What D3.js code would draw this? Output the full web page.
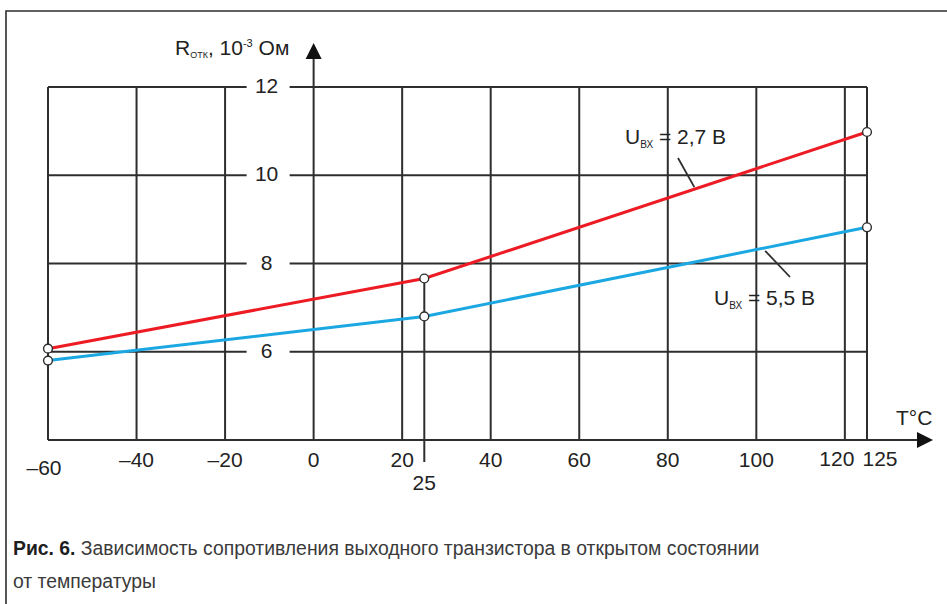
<!DOCTYPE html>
<html>
<head>
<meta charset="utf-8">
<script src="https://cdn.jsdelivr.net/npm/d3@7"></script>
<style>
  html, body { margin: 0; padding: 0; background: #fff; }
  svg { display: block; }
  text { font-family: "Liberation Sans", Arial, sans-serif; fill: #222; }
</style>
</head>
<body>
<svg id="chart" width="947" height="604"></svg>
<script>
// Temperature points (°C) and on-state resistance (10^-3 Ohm) for two input voltages
const temps = [-60, 25, 125];
const rU27 = [6.07, 7.66, 10.98];   // U_вх = 2,7 В
const rU55 = [5.80, 6.80, 8.82];    // U_вх = 5,5 В

const xGrid = [-40, -20, 0, 20, 40, 60, 80, 100, 120];
const xTickLabels = [-60, -40, -20, 0, 20, 40, 60, 80, 100, 120, 125, 25];
const yGrid = [6, 8, 10];
const yTickLabels = [6, 8, 10, 12];

const svg = d3.select("#chart");
const ink = "#2e2e2e";
const fs = 21;

const x = d3.scaleLinear().domain([-60, 125]).range([48, 867]);
const y = d3.scaleLinear().domain([4, 12]).range([440, 87]);

const x0 = x(0);
const labelX = x0 - 47;       // centre of the y tick labels
const gapL = labelX - 20, gapR = labelX + 23;

// outer frame (left and top)
svg.append("path")
  .attr("d", "M6,604V11H947")
  .attr("fill", "none").attr("stroke", ink).attr("stroke-width", 1.6);

const grid = svg.append("g").attr("stroke", ink).attr("stroke-width", 2).attr("fill", "none");

// horizontal grid lines, broken around the tick labels
[...yGrid, 12].forEach(v => {
  grid.append("line").attr("x1", x(-60)).attr("x2", gapL).attr("y1", y(v)).attr("y2", y(v));
  grid.append("line").attr("x1", gapR).attr("x2", x(125)).attr("y1", y(v)).attr("y2", y(v));
});

// vertical grid lines and frame sides
[-60, ...xGrid.filter(d => d !== 0), 125].forEach(v => {
  grid.append("line").attr("x1", x(v)).attr("x2", x(v)).attr("y1", y(12)).attr("y2", y(4));
});

// marker line at 25 °C
grid.append("line")
  .attr("x1", x(25)).attr("x2", x(25))
  .attr("y1", y(rU27[1])).attr("y2", y(4) + 22);

// axes with arrows
grid.append("line").attr("x1", x0).attr("x2", x0).attr("y1", y(4)).attr("y2", 58);
svg.append("path").attr("d", `M${x0 - 8},59L${x0 + 8},59L${x0},43Z`).attr("fill", "#111");
grid.append("line").attr("x1", x(-60)).attr("x2", 918).attr("y1", y(4)).attr("y2", y(4));
svg.append("path").attr("d", `M917,432L917,448L933,440Z`).attr("fill", "#111");

// y tick labels
svg.append("g").selectAll("text").data(yTickLabels).join("text")
  .attr("x", labelX).attr("y", d => y(d) + 6)
  .attr("text-anchor", "middle").attr("font-size", fs)
  .text(d => d);

// x tick labels
const xLabelPos = d => {
  if (d === -60) return { dx: -4, y: y(4) + 35 };
  if (d === 25) return { dx: 0, y: y(4) + 50 };
  if (d === 120) return { dx: -8, y: y(4) + 26 };
  if (d === 125) return { dx: 13, y: y(4) + 26 };
  return { dx: 0, y: y(4) + 27 };
};
svg.append("g").selectAll("text").data(xTickLabels).join("text")
  .attr("x", d => x(d) + xLabelPos(d).dx)
  .attr("y", d => xLabelPos(d).y)
  .attr("text-anchor", "middle").attr("font-size", fs)
  .text(d => d < 0 ? "\u2013" + Math.abs(d) : d);

// axis titles
const yt = svg.append("text").attr("x", 175).attr("y", 55).attr("font-size", fs);
yt.append("tspan").text("R");
yt.append("tspan").attr("font-size", 9).attr("dy", 3).text("ОТК");
yt.append("tspan").attr("dy", -3).text(", 10");
yt.append("tspan").attr("font-size", 11).attr("dy", -8).text("-3");
yt.append("tspan").attr("dy", 8).text(" Ом");

svg.append("text").attr("x", 896).attr("y", 425).attr("font-size", fs).text("T°C");

// data curves
const line = d3.line().x(d => x(d[0])).y(d => y(d[1]));
const series = [
  { values: rU27, color: "#ed1c24" },
  { values: rU55, color: "#1ba8e2" }
];
series.forEach(s => {
  const pts = temps.map((t, i) => [t, s.values[i]]);
  svg.append("path").datum(pts)
    .attr("d", line)
    .attr("fill", "none").attr("stroke", s.color).attr("stroke-width", 3)
    .attr("stroke-linecap", "round");
});
series.forEach(s => {
  svg.append("g").selectAll("circle").data(temps.map((t, i) => [t, s.values[i]])).join("circle")
    .attr("cx", d => x(d[0])).attr("cy", d => y(d[1])).attr("r", 4.4)
    .attr("fill", "#fff").attr("stroke", ink).attr("stroke-width", 1.4);
});

// series labels with leader lines
function seriesLabel(tx, ty, value, lx1, ly1, lx2, ly2) {
  svg.append("line").attr("x1", lx1).attr("y1", ly1).attr("x2", lx2).attr("y2", ly2)
    .attr("stroke", ink).attr("stroke-width", 1.8);
  const t = svg.append("text").attr("x", tx).attr("y", ty).attr("font-size", fs);
  t.append("tspan").text("U");
  t.append("tspan").attr("font-size", 10).attr("dy", 4).text("ВХ");
  t.append("tspan").attr("dy", -4).text(" = " + value + " В");
}
// leader ends sit on the curves at T = 86 °C and T = 102 °C
const yOn = (vals, t) => {
  const i = t <= temps[1] ? 0 : 1;
  const f = (t - temps[i]) / (temps[i + 1] - temps[i]);
  return y(vals[i] + f * (vals[i + 1] - vals[i]));
};
seriesLabel(625, 144, "2,7", 678, 158, x(86), yOn(rU27, 86) - 2);
seriesLabel(714, 305, "5,5", x(102), yOn(rU55, 102) + 3, 790, 277);

// caption (condensed to the column width)
const cap = svg.append("g");
const c1 = cap.append("text").attr("x", 0).attr("y", 555).attr("font-size", 21);
c1.append("tspan").attr("font-weight", "bold").style("fill", "#1e1e1e").text("Рис. 6.");
c1.append("tspan").style("fill", "#3a3a3a").text(" Зависимость сопротивления выходного транзистора в открытом состоянии");
const c2 = cap.append("text").attr("x", 0).attr("y", 588).attr("font-size", 21)
  .style("fill", "#3a3a3a").text("от температуры");
const w1 = c1.node().getComputedTextLength();
const sx = 747 / w1;
c1.attr("transform", `translate(13,0) scale(${sx},1)`);
c2.attr("transform", `translate(13,0) scale(${sx},1)`);
</script>
</body>
</html>
